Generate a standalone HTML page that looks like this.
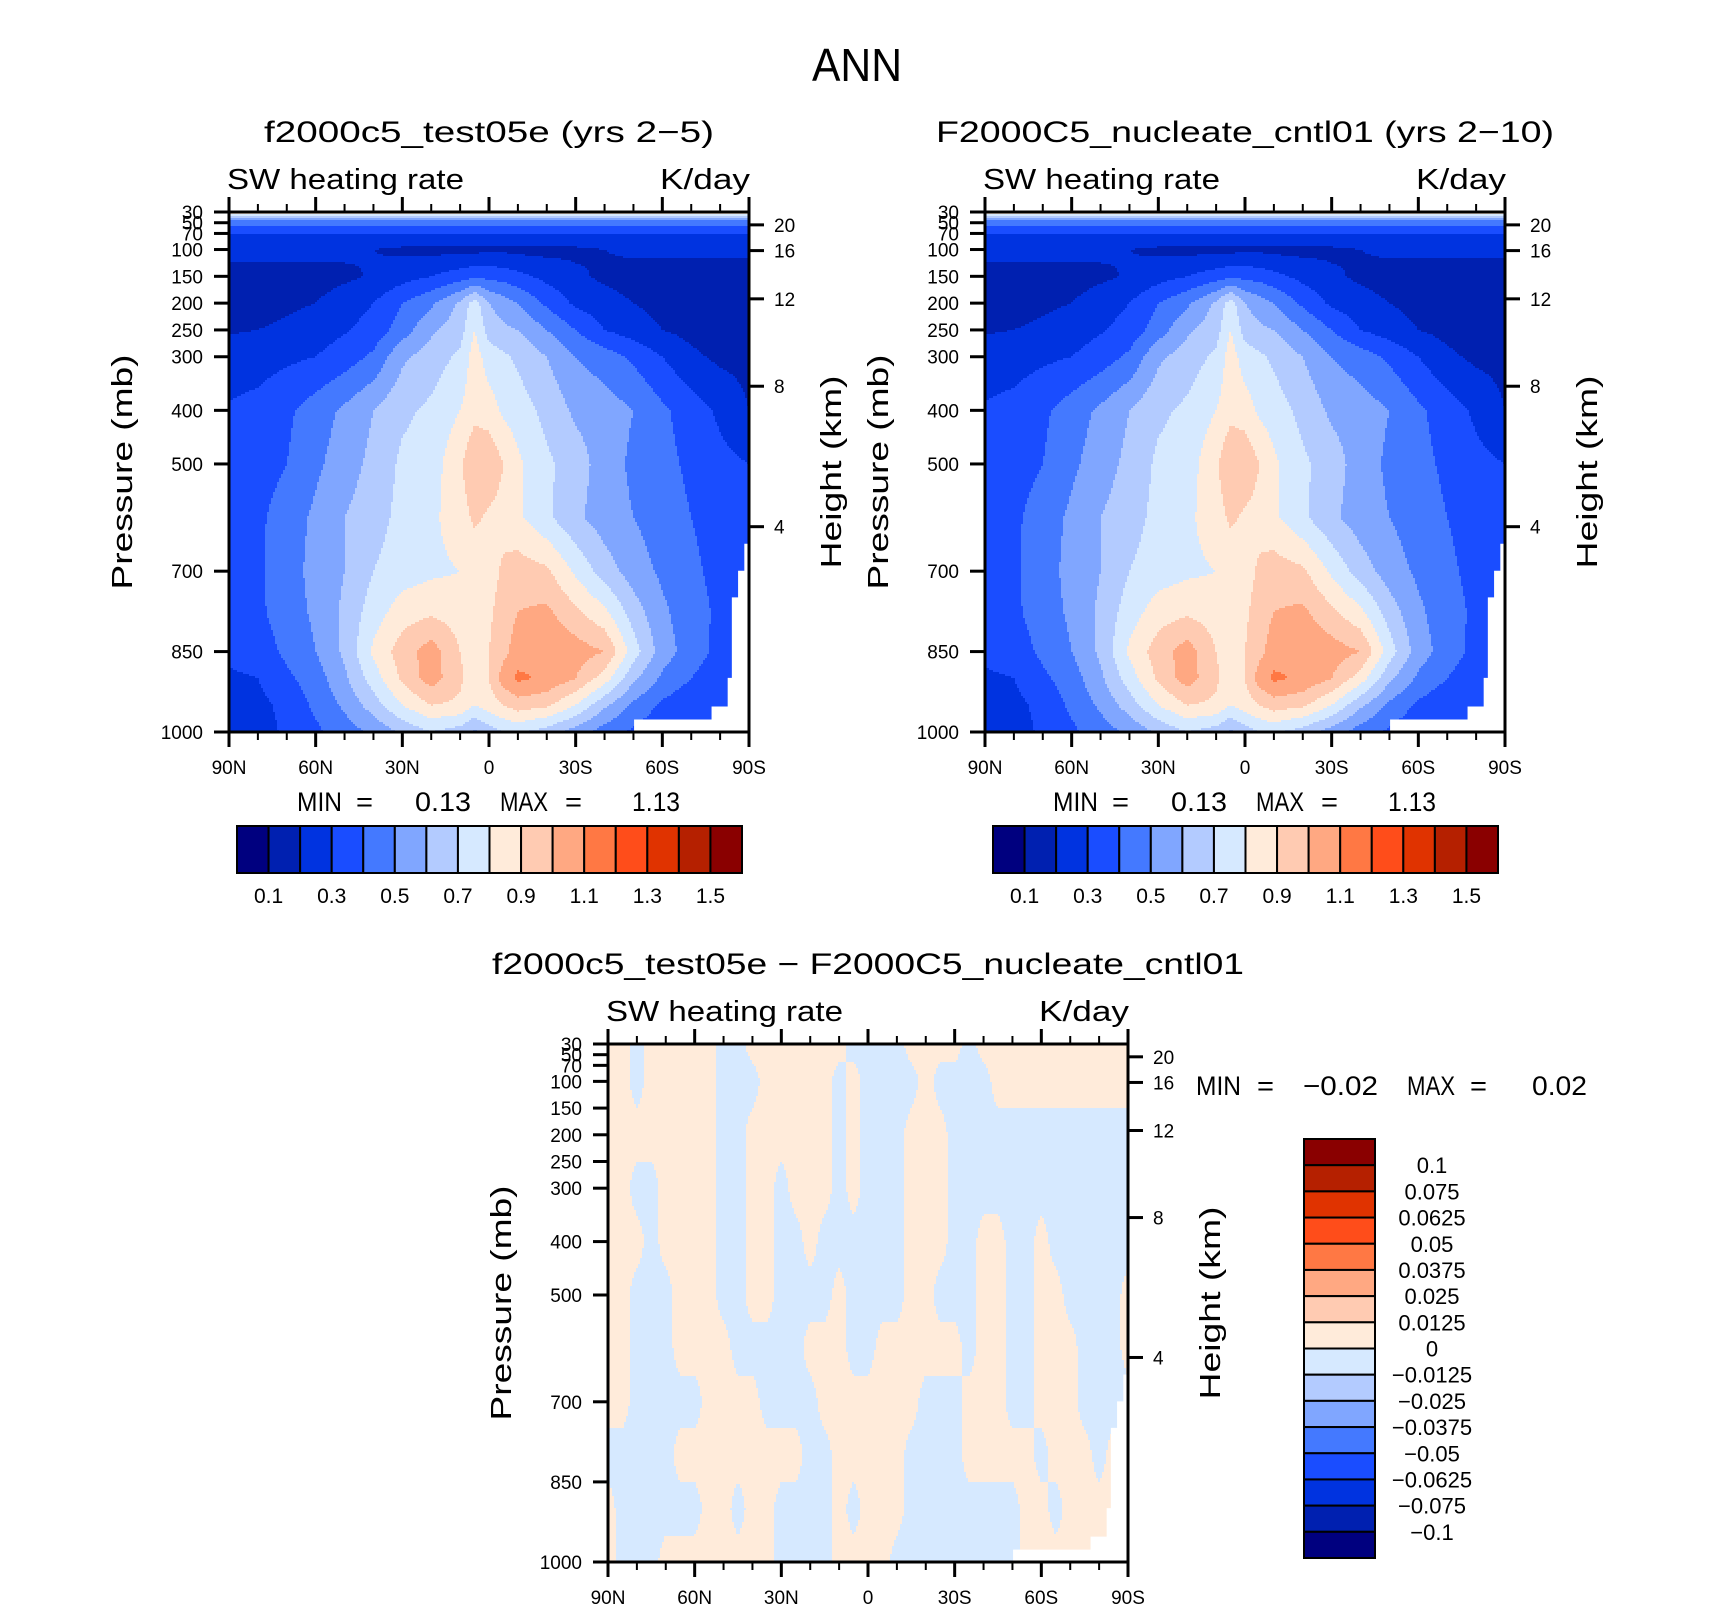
<!DOCTYPE html>
<html><head><meta charset="utf-8"><style>
html,body{margin:0;padding:0;background:#fff;}
svg{display:block;font-family:"Liberation Sans",sans-serif;}
</style></head><body>
<svg id="root" width="1710" height="1611" viewBox="0 0 1710 1611" xmlns="http://www.w3.org/2000/svg">
<text x="857" y="81" font-size="46" text-anchor="middle" textLength="90" lengthAdjust="spacingAndGlyphs">ANN</text>
<g id="p1"></g>
<g id="p2"></g>
<g id="p3"></g>
</svg>
<script>
// ---------- data ----------
const lats1 = [90,80,70,60,50,40,30,20,10,5,0,-5,-10,-20,-30,-40,-50,-60,-70,-80,-90];
const levels1 = [30,40,50,70,100,150,200,250,300,400,500,600,700,775,850,900,950,1000];
const field1 = [
[.88,.88,.88,.88,.88,.88,.88,.88,.88,.88,.88,.88,.88,.88,.88,.88,.88,.88,.88,.88,.88],
[.58,.58,.58,.58,.58,.58,.58,.58,.58,.58,.58,.58,.58,.58,.58,.58,.58,.58,.58,.58,.58],
[.45,.45,.45,.45,.45,.45,.45,.45,.45,.45,.45,.45,.45,.45,.45,.45,.45,.45,.45,.45,.45],
[.30,.30,.30,.30,.30,.30,.30,.30,.30,.30,.30,.30,.30,.30,.30,.30,.30,.30,.30,.30,.30],
[.24,.24,.24,.23,.22,.20,.18,.17,.17,.17,.18,.18,.17,.17,.18,.20,.22,.22,.22,.22,.22],
[.15,.15,.15,.16,.18,.21,.26,.30,.35,.38,.37,.36,.33,.27,.22,.18,.16,.15,.15,.15,.16],
[.15,.16,.18,.20,.25,.30,.40,.48,.62,.75,.60,.55,.50,.38,.28,.24,.20,.17,.16,.15,.15],
[.19,.20,.22,.25,.29,.34,.45,.58,.66,.80,.66,.62,.60,.50,.40,.30,.25,.20,.17,.16,.16],
[.25,.26,.28,.30,.35,.42,.58,.65,.72,.85,.75,.72,.68,.60,.50,.45,.38,.30,.22,.18,.17],
[.31,.33,.38,.45,.52,.60,.68,.72,.80,.86,.85,.78,.75,.67,.58,.55,.50,.42,.35,.28,.20],
[.33,.35,.40,.48,.55,.63,.72,.75,.88,1.0,.98,.90,.82,.72,.65,.55,.48,.43,.38,.33,.30],
[.35,.38,.45,.52,.60,.66,.73,.78,.85,.92,.88,.86,.82,.72,.62,.55,.50,.45,.40,.36,.35],
[.35,.38,.46,.53,.60,.70,.75,.78,.80,.82,.85,.92,.95,.92,.78,.65,.55,.48,.42,.37,.35],
[.35,.38,.45,.52,.62,.75,.85,.88,.85,.83,.88,.95,1.0,1.02,.92,.82,.65,.52,.44,.38,.35],
[.33,.35,.42,.50,.62,.82,.95,1.05,.90,.84,.90,.97,1.05,1.10,1.05,1.0,.75,.55,.45,.37,.34],
[.28,.30,.38,.45,.58,.75,.92,1.05,.92,.84,.90,1.05,1.12,1.08,1.0,.85,.62,.48,.40,.33,.30],
[.25,.27,.33,.42,.52,.65,.80,.90,.88,.80,.85,.90,.95,.92,.80,.62,.48,.38,.32,.30,.30],
[.27,.25,.32,.38,.45,.52,.62,.70,.65,.58,.65,.70,.72,.65,.55,.45,.38,.32,.30,.30,.30]
];
const field2 = [
[.88,.88,.88,.88,.88,.88,.88,.88,.88,.88,.88,.88,.88,.88,.88,.88,.88,.88,.88,.88,.88],
[.58,.58,.58,.58,.58,.58,.58,.58,.58,.58,.58,.58,.58,.58,.58,.58,.58,.58,.58,.58,.58],
[.45,.45,.45,.45,.45,.45,.45,.45,.45,.45,.45,.45,.45,.45,.45,.45,.45,.45,.45,.45,.45],
[.30,.30,.30,.30,.30,.30,.30,.30,.30,.30,.30,.30,.30,.30,.30,.30,.30,.30,.30,.30,.30],
[.24,.24,.24,.23,.22,.20,.18,.17,.17,.17,.18,.18,.17,.17,.18,.20,.22,.22,.22,.22,.22],
[.15,.15,.15,.16,.18,.21,.26,.30,.35,.38,.37,.36,.33,.27,.22,.18,.16,.15,.15,.15,.16],
[.15,.16,.18,.20,.25,.30,.40,.48,.62,.75,.60,.55,.50,.38,.28,.24,.20,.17,.16,.15,.15],
[.19,.20,.22,.25,.29,.34,.45,.58,.66,.80,.66,.62,.60,.50,.40,.30,.25,.20,.17,.16,.16],
[.25,.26,.28,.30,.35,.42,.58,.65,.72,.85,.75,.72,.68,.60,.50,.45,.38,.30,.22,.18,.17],
[.31,.33,.38,.45,.52,.60,.68,.72,.80,.86,.85,.78,.75,.67,.58,.55,.50,.42,.35,.28,.20],
[.33,.35,.40,.48,.55,.63,.72,.75,.88,1.0,.98,.90,.82,.72,.65,.55,.48,.43,.38,.33,.30],
[.35,.38,.45,.52,.60,.66,.73,.78,.85,.92,.88,.86,.82,.72,.62,.55,.50,.45,.40,.36,.35],
[.35,.38,.46,.53,.60,.70,.75,.78,.80,.82,.85,.92,.95,.92,.78,.65,.55,.48,.42,.37,.35],
[.35,.38,.45,.52,.62,.75,.85,.88,.85,.83,.88,.95,1.0,1.02,.92,.82,.65,.52,.44,.38,.35],
[.33,.35,.42,.50,.62,.82,.95,1.05,.90,.84,.90,.97,1.05,1.10,1.05,1.0,.75,.55,.45,.37,.34],
[.28,.30,.38,.45,.58,.75,.92,1.05,.92,.84,.90,1.05,1.12,1.08,1.0,.85,.62,.48,.40,.33,.30],
[.25,.27,.33,.42,.52,.65,.80,.90,.88,.80,.85,.90,.95,.92,.80,.62,.48,.38,.32,.30,.30],
[.27,.25,.32,.38,.45,.52,.62,.70,.65,.58,.65,.70,.72,.65,.55,.45,.38,.32,.30,.30,.30]
];
const lats3 = [90,85,80,75,70,65,60,55,50,45,40,35,30,25,20,15,10,5,0,-5,-10,-15,-20,-25,-30,-35,-40,-45,-50,-55,-60,-65,-70,-75,-80,-85,-90];
const levels3 = [30,100,200,300,400,500,600,700,800,900,1000];
const signs3 = [
"PPBPPPPPBBPPPPPPPBBBBPPPPBPPPPPPPPPPP",
"PPBPPPPPBBBPPPPPBPBBBBPBBBBPPPPPPPPPP",
"PPPPPPPPBBPPPPPPBPBBBPPPBBBBBBBBBBBBB",
"PPBBPPPPBBPPBPPPBPBBBPPPBBBBBBBBBBBBB",
"PPPBPPPPBBPPBBPBBBBBBPPPBBPPBBPBBBBBB",
"PPBBBPPPBBPPBBBBPBBBBPPBBBPPBBPPBBBBP",
"PPBBBPPPPBBBBBPPPBBPPPPPPBPPBBPPPBBBP",
"PPBBBBBPPPPBBBBPPPPPPPBBBPPPBBPPPBBBB",
"BBBBBPPPPPPPPPBBPPPPPBBBBPPPPPBPPPBPP",
"PBBBBBBPPBPPBBBBPBPPPBBBBBBBBPPBPPPPP",
"PBBBPPPPPPPPBBBBPPPPBBBBBBBBBPPPPPPPP"
];
const diffMagnitude = 0.005;
const field3 = signs3.map(r => r.split('').map(c => c === 'P' ? diffMagnitude : -diffMagnitude));

const bounds1 = [0.1,0.2,0.3,0.4,0.5,0.6,0.7,0.8,0.9,1.0,1.1,1.2,1.3,1.4,1.5];
const bounds3 = [-0.1,-0.075,-0.0625,-0.05,-0.0375,-0.025,-0.0125,0,0.0125,0.025,0.0375,0.05,0.0625,0.075,0.1];
const labels1 = ["0.1","0.3","0.5","0.7","0.9","1.1","1.3","1.5"];
const labels3 = ["−0.1","−0.075","−0.0625","−0.05","−0.0375","−0.025","−0.0125","0","0.0125","0.025","0.0375","0.05","0.0625","0.075","0.1"];
const colors = ["#00007f","#0020b0","#0033e0","#1a4dff","#4479ff","#80a6ff","#b3cbff","#d6e9ff","#ffebda","#ffcbb2","#ffa882","#ff7844","#ff4d1a","#e03300","#b52000","#8a0000"];
const pTicks = [30,50,70,100,150,200,250,300,400,500,700,850,1000];
const kmTicks = ["20","16","12","8","4"];
const kmPressure = [54,102,192,355,617];
const latMajor = [90,60,30,0,-30,-60,-90];
const latMajorLabels = ["90N","60N","30N","0","30S","60S","90S"];
const latMinor = [80,70,50,40,20,10,-10,-20,-40,-50,-70,-80];
// missing-data staircase (fractions of plot)
const missingX = [0.779,0.928,0.959,0.967,0.979,0.991];
const missingY = [0.976,0.951,0.896,0.741,0.690,0.638];

// ---------- helpers ----------
const NS = "http://www.w3.org/2000/svg";
function mk(tag, attrs, parent){ const e=document.createElementNS(NS,tag); for(const k in attrs) e.setAttribute(k,attrs[k]); parent.appendChild(e); return e; }
function seg(arr, v, desc){
  for(let i=0;i<arr.length-1;i++){ const a=arr[i], b=arr[i+1];
    if(desc ? (v<=a && v>=b) : (v>=a && v<=b)) return [i,(v-a)/(b-a)]; }
  return desc ? (v>arr[0]?[0,0]:[arr.length-2,1]) : (v<arr[0]?[0,0]:[arr.length-2,1]);
}
function interp(field, lats, levs, lat, p){
  const [i,fx]=seg(lats,lat,true); const [j,fy]=seg(levs,p,false);
  const a=field[j][i], b=field[j][i+1], c=field[j+1][i], d=field[j+1][i+1];
  return (a*(1-fx)+b*fx)*(1-fy)+(c*(1-fx)+d*fx)*fy;
}
function cidx(v,bounds){ let k=0; for(const b of bounds) if(v>=b) k++; return k; }

function panel(g, o){
  const L=o.x, T=o.y, W=o.w, H=o.h;
  const xs = lat => L + (90-lat)/180*W;
  const ys = p => T + (p-30)/970*H;
  const bg=mk('rect',{x:L,y:T,width:W,height:H,fill:o.bg},g);
  
  
  const fill = mk('g',{},g);
  
  
  const st=2;
  for(let py=0; py<H; py+=st){
    const p = Math.min(1000, 30 + (py+st/2)/H*970);
    let runStart=0, runC=-1;
    for(let px=0; px<W+st; px+=st){
      let c=-2;
      if(px<W){ const lat = Math.max(-90, 90 - (px+st/2)/W*180); c = cidx(interp(o.field,o.lats,o.levs,lat,p),o.bounds); }
      if(c!==runC){
        if(runC>=0){ const r=mk('rect',{x:L+runStart,y:T+py,width:Math.min(px,W)-runStart+0.6,height:Math.min(st+0.6,H-py),fill:colors[runC]},fill);
          
           }
        runStart=px; runC=c;
      }
    }
  }
  const m=mk('path',{d:`M${L+missingX[0]*W} ${T+H} `+missingX.map((x,k)=>`L${L+x*W} ${T+missingY[k]*H} L${L+(k+1<missingX.length?missingX[k+1]:1)*W} ${T+missingY[k]*H}`).join(' ')+` L${L+W} ${T+H} Z`,fill:'#fff'},g);
  
  
  const fr=mk('rect',{x:L,y:T,width:W,height:H,fill:'none',stroke:'#000','stroke-width':3},g);
  
  
  pTicks.forEach(p=>{
    const y=ys(p);
    const t=mk('line',{x1:L-15,x2:L,y1:y,y2:y,stroke:'#000','stroke-width':3},g);
    
    
    const tx=mk('text',{x:L-26,y:y+7,'font-size':19,'text-anchor':'end'},g); tx.textContent=String(p);
    
    
  });
  kmPressure.forEach((p,k)=>{
    const y=ys(p);
    const t=mk('line',{x1:L+W,x2:L+W+15,y1:y,y2:y,stroke:'#000','stroke-width':3},g);
    
    
    const tx=mk('text',{x:L+W+25,y:y+7,'font-size':19},g); tx.textContent=kmTicks[k];
    
    
  });
  latMajor.forEach((lat,k)=>{
    const x=xs(lat);
    const a=mk('line',{x1:x,x2:x,y1:T-15,y2:T,stroke:'#000','stroke-width':3},g);
    
    
    const b=mk('line',{x1:x,x2:x,y1:T+H,y2:T+H+15,stroke:'#000','stroke-width':3},g);
    
    
    const tx=mk('text',{x:x,y:T+H+42,'font-size':19,'text-anchor':'middle'},g); tx.textContent=latMajorLabels[k];
    
    
  });
  latMinor.forEach(lat=>{
    const x=xs(lat);
    const a=mk('line',{x1:x,x2:x,y1:T-8,y2:T,stroke:'#000','stroke-width':2},g);
    
    
    const b=mk('line',{x1:x,x2:x,y1:T+H,y2:T+H+8,stroke:'#000','stroke-width':2},g);
    
    
  });
  const ti=mk('text',{x:L+W/2,y:T-70,'font-size':30,'text-anchor':'middle',textLength:o.titleW,lengthAdjust:'spacingAndGlyphs'},g); ti.textContent=o.title;
  
  
  const sw=mk('text',{x:L-2,y:T-23,'font-size':29,textLength:237,lengthAdjust:'spacingAndGlyphs'},g); sw.textContent='SW heating rate';
  
  
  const ku=mk('text',{x:L+W+1,y:T-23,'font-size':29,'text-anchor':'end',textLength:90,lengthAdjust:'spacingAndGlyphs'},g); ku.textContent='K/day';
  
  
  const cy=T+H/2;
  const pl=mk('text',{x:0,y:0,'font-size':29,'text-anchor':'middle',textLength:235,lengthAdjust:'spacingAndGlyphs',transform:`translate(${L-97},${cy}) rotate(-90)`},g); pl.textContent='Pressure (mb)';
  
  
  const hl=mk('text',{x:0,y:0,'font-size':29,'text-anchor':'middle',textLength:193,lengthAdjust:'spacingAndGlyphs',transform:`translate(${L+W+92},${cy}) rotate(-90)`},g); hl.textContent='Height (km)';
  
  
}

function minmax(g, parts){
  parts.forEach(pt=>{
    const t=mk('text',{x:pt[0],y:pt[1],'font-size':27,textLength:pt[3],lengthAdjust:'spacingAndGlyphs'},g); t.textContent=pt[2];
    
    
  });
}

function hbar(g, x0, y0, w, h){
  const bw=w/colors.length;
  colors.forEach((c,k)=>{
    const r=mk('rect',{x:x0+k*bw,y:y0,width:bw,height:h,fill:c,stroke:'#000','stroke-width':2},g);
    
    
  });
  labels1.forEach((lb,k)=>{
    const t=mk('text',{x:x0+(1+2*k)*bw,y:y0+h+30,'font-size':21,'text-anchor':'middle'},g); t.textContent=lb;
    
    
  });
}

const p1=document.getElementById('p1'), p2=document.getElementById('p2'), p3=document.getElementById('p3');
panel(p1,{x:229,y:212,w:520,h:520,field:field1,lats:lats1,levs:levels1,bounds:bounds1,bg:'#1a4dff',title:'f2000c5_test05e (yrs 2−5)',titleW:450});
panel(p2,{x:985,y:212,w:520,h:520,field:field2,lats:lats1,levs:levels1,bounds:bounds1,bg:'#1a4dff',title:'F2000C5_nucleate_cntl01 (yrs 2−10)',titleW:618});
panel(p3,{x:608,y:1044,w:520,h:518,field:field3,lats:lats3,levs:levels3,bounds:bounds3,bg:'#d6e9ff',title:'f2000c5_test05e − F2000C5_nucleate_cntl01',titleW:752});
minmax(p1,[[297,811,'MIN',45],[356,811,'=',17],[415,811,'0.13',56],[500,811,'MAX',48],[565,811,'=',17],[632,811,'1.13',48]]);
minmax(p2,[[1053,811,'MIN',45],[1112,811,'=',17],[1171,811,'0.13',56],[1256,811,'MAX',48],[1321,811,'=',17],[1388,811,'1.13',48]]);
minmax(p3,[[1196,1095,'MIN',45],[1257,1095,'=',17],[1303,1095,'−0.02',75],[1407,1095,'MAX',48],[1470,1095,'=',17],[1532,1095,'0.02',55]]);
hbar(p1,237,826,505,47);
hbar(p2,993,826,505,47);
(function(){
  const x0=1304,y0=1139,w=71,h=419,bh=h/colors.length;
  colors.slice().reverse().forEach((c,k)=>{
    const r=mk('rect',{x:x0,y:y0+k*bh,width:w,height:bh,fill:c,stroke:'#000','stroke-width':2},p3);
    
    
  });
  labels3.slice().reverse().forEach((lb,k)=>{
    const t=mk('text',{x:1432,y:y0+(k+1)*bh+8,'font-size':22,'text-anchor':'middle'},p3); t.textContent=lb;
    
    
  });
})();
</script>
</body></html>
